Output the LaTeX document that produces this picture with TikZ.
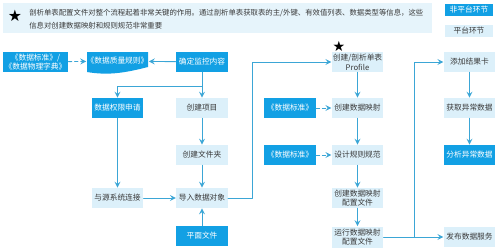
\documentclass[tikz,border=0pt]{standalone}
\usepackage{fontspec}
\setmainfont{Noto Sans CJK SC}
\newfontfamily\symfont{DejaVu Sans}
\definecolor{darkblue}{HTML}{12A0E4}
\definecolor{lightblue}{HTML}{DCF0FA}
\definecolor{bannerblue}{HTML}{E6F4FB}
\definecolor{linkblue}{HTML}{3BA6D6}
\definecolor{txtgray}{HTML}{3A3A3A}
\begin{document}
\begin{tikzpicture}[x=0.02cm,y=-0.02cm,>=stealth,line join=round,line cap=round]
	\tikzset{box/.style={minimum width=1.03cm,minimum height=0.4cm,inner sep=0pt,align=center,font=\fontsize{4.4}{5.6}\selectfont},
		darkbox/.style={box,fill=darkblue,text=white},
		lightbox/.style={box,fill=lightblue,text=txtgray},
		notetext/.style={anchor=west,text=txtgray,inner sep=0pt,font=\fontsize{4.2}{5}\selectfont},
		flow/.style={->,draw=linkblue,line width=0.5pt},
		dflow/.style={flow,dashed,dash pattern=on 2pt off 1.5pt}}
	\useasboundingbox (0,0) rectangle (499,250);
	%%Chú thích trên cùng
	\fill[bannerblue] (3,3) rectangle (432,33);
	\node (star) at (15,16) {\symfont\fontsize{9}{9}\selectfont ★};
	\node[notetext] (note1) at (29,13.5) {剖析单表配置文件对整个流程起着非常关键的作用。通过剖析单表获取表的主/外键、有效值列表、数据类型等信息，这些};
	\node[notetext] (note2) at (29,25.5) {信息对创建数据映射和规则规范非常重要};
	\node[darkbox,minimum width=0.96cm,minimum height=0.24cm,font=\fontsize{4.4}{5}\selectfont] (keyA) at (469,10) {非平台环节};
	\node[lightbox,minimum width=0.96cm,minimum height=0.24cm,font=\fontsize{4.4}{5}\selectfont] (keyB) at (469,31) {平台环节};
	%%Cột trái
	\node[darkbox,minimum width=1.3cm] (std1) at (35.5,62) {《数据标准》/\\《数据物理字典》};
	\fill[darkblue] (87,52) -- (148,52) -- (148,67) .. controls (128,72) and (110,76) .. (87,72) -- cycle;
	\node[box,text=white,minimum width=1.22cm] (rule) at (117.5,61) {《数据质量规则》};
	\node[darkbox] (monitor) at (202,62) {确定监控内容};
	\node[darkbox] (perm) at (117.5,108) {数据权限申请};
	\node[lightbox] (proj) at (202,108) {创建项目};
	\node[lightbox] (folder) at (202,155) {创建文件夹};
	\node[lightbox] (conn) at (117.5,198) {与源系统连接};
	\node[lightbox] (import) at (202,198) {导入数据对象};
	\node[darkbox] (flat) at (202,236) {平面文件};
	%%Cột giữa
	\node[lightbox] (profile) at (357.5,62) {创建/剖析单表\\Profile};
	\node (star2) at (339,46) {\symfont\fontsize{8}{8}\selectfont ★};
	\node[darkbox] (std2) at (290,108) {《数据标准》};
	\node[lightbox] (mapping) at (357.5,108) {创建数据映射};
	\node[darkbox] (std3) at (290,155) {《数据标准》};
	\node[lightbox] (design) at (357.5,155) {设计规则规范};
	\node[lightbox] (cfg) at (357.5,198) {创建数据映射\\配置文件};
	\node[lightbox,minimum height=0.42cm] (run) at (357.5,237) {运行数据映射\\配置文件};
	%%Cột phải
	\node[lightbox] (card) at (469.5,62) {添加结果卡};
	\node[lightbox] (abn) at (469.5,108) {获取异常数据};
	\node[darkbox] (analyze) at (469.5,155) {分析异常数据};
	\node[lightbox] (publish) at (469.5,237) {发布数据服务};
	%%Các điểm rẽ
	\coordinate (split) at (202,86);
	\coordinate (loopL) at (252,0);
	\coordinate (loopR) at (414,0);
	%%Mũi tên
	\draw[dflow] (std1) -- (rule);
	\draw[flow] (monitor) -- (rule);
	\draw[flow] (monitor) -- (proj);
	\draw[flow] (split) -| (perm);
	\draw[flow] (perm) -- (conn);
	\draw[flow] (proj) -- (folder);
	\draw[flow] (folder) -- (import);
	\draw[flow] (conn) -- (import);
	\draw[flow] (flat) -- (import);
	\draw[flow] (import.east) -- (import.east -| loopL) |- (profile.west);
	\draw[flow] (profile) -- (mapping);
	\draw[flow] (mapping) -- (design);
	\draw[flow] (design) -- (cfg);
	\draw[flow] (cfg) -- (run);
	\draw[dflow] (std2) -- (mapping);
	\draw[dflow] (std3) -- (design);
	\draw[flow] (run) -- (publish);
	\draw[flow] (run.east -| loopR) |- (card.west);
	\draw[flow] (card) -- (abn);
	\draw[flow] (abn) -- (analyze);
\end{tikzpicture}
\end{document}
